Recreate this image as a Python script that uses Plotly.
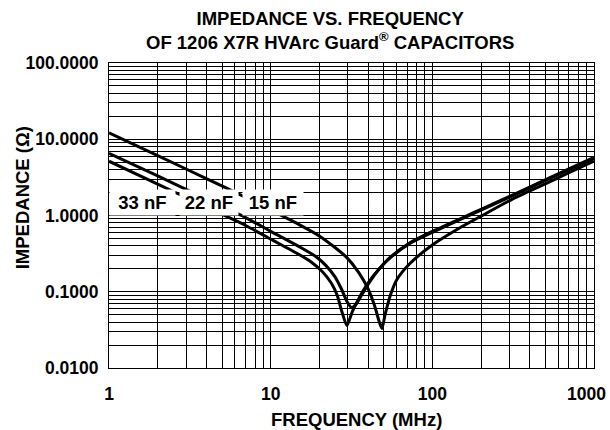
import plotly.graph_objects as go

# Frequencies (MHz) and impedance (ohm)
f33 = [1, 2, 4, 7, 10, 14.8, 17.8, 20.7, 23.7, 25.8, 27.5, 29.6, 32, 36, 40, 47, 55, 72.7, 100, 200, 400, 700, 1000]
z33 = [5.15, 2.58, 1.29, 0.74, 0.49, 0.313, 0.246, 0.187, 0.13, 0.09, 0.056, 0.036, 0.055, 0.09, 0.13, 0.2, 0.28, 0.43, 0.6, 1.18, 2.3, 4.0, 5.6]

f22 = [1, 2, 4, 7, 10, 15, 19, 22, 25, 27.5, 29.8, 31.8, 34, 37, 41, 47, 55, 72.7, 100, 200, 400, 700, 1000]
z22 = [6.55, 3.3, 1.65, 0.94, 0.62, 0.39, 0.29, 0.22, 0.157, 0.107, 0.073, 0.062, 0.07, 0.095, 0.135, 0.2, 0.285, 0.44, 0.62, 1.2, 2.35, 4.1, 5.8]

f15 = [1, 2, 4, 7, 10, 15, 20, 25, 29.6, 35, 40, 44, 47, 48.8, 51, 55, 60.4, 72.7, 100, 150, 200, 315, 500, 700, 1000]
z15 = [12.1, 6.1, 3.05, 1.73, 1.18, 0.76, 0.54, 0.38, 0.28, 0.18, 0.11, 0.065, 0.04, 0.033, 0.05, 0.09, 0.145, 0.235, 0.41, 0.7, 0.98, 1.65, 2.6, 3.65, 5.15]

series_names = ["33 nF", "22 nF", "15 nF"]

x_major = [1, 10, 100]
x_major_text = ["1", "10", "100"]
x_last_text = "1000"  # drawn right-aligned at the window edge, as in the reference
y_major = [0.01, 0.1, 1, 10, 100]
y_major_text = ["0.0100", "0.1000", "1.0000", "10.0000", "100.0000"]

# grid values: 1..9 in every decade
x_grid = [m * d for d in [1, 10, 100] for m in range(1, 10)] + [1000]
y_grid = [m * d for d in [0.01, 0.1, 1, 10] for m in range(1, 10)] + [100]

x_text = [x_major_text[x_major.index(v)] if v in x_major else "" for v in x_grid]
y_text = [y_major_text[y_major.index(v)] if v in y_major else "" for v in y_grid]

FONT = "Liberation Sans, Arial, Helvetica, sans-serif"

fig = go.Figure()
for fx, zy, nm in [(f33, z33, series_names[0]), (f22, z22, series_names[1]), (f15, z15, series_names[2])]:
    fig.add_trace(go.Scatter(x=fx, y=zy, mode="lines", name=nm,
                             line=dict(color="black", width=3, shape="spline", smoothing=0.6),
                             showlegend=False))

fig.update_layout(
    width=610, height=430,
    margin=dict(l=109, r=16, t=63, b=62, autoexpand=False),
    paper_bgcolor="white", plot_bgcolor="white",
    font=dict(family=FONT, color="black", size=17, weight="bold"),
    showlegend=False,
)
fig.update_xaxes(type="log", range=[0, 3], tickvals=x_grid, ticktext=x_text,
                 showgrid=True, gridcolor="black", gridwidth=1,
                 showline=True, linecolor="black", linewidth=1, mirror=True,
                 ticks="", ticklabelstandoff=10, ticklabeloverflow="allow", automargin=False,
                 tickfont=dict(size=17.5, family=FONT, weight="bold"), zeroline=False)
fig.update_yaxes(type="log", range=[-2, 2], tickvals=y_grid, ticktext=y_text,
                 showgrid=True, gridcolor="black", gridwidth=1,
                 showline=True, linecolor="black", linewidth=1, mirror=True,
                 ticks="", ticklabelstandoff=6, ticklabeloverflow="allow", automargin=False,
                 tickfont=dict(size=17.5, family=FONT, weight="bold"), zeroline=False)

ann_font = dict(family=FONT, size=18.5, color="black", weight="bold")
# curve labels with white boxes
label_pos = [(0.069, 65), (0.206, 58), (0.338, 60)]
for nm, (px, w) in zip(series_names, label_pos):
    fig.add_annotation(x=px, y=0.542, xref="paper", yref="paper", text=nm,
                       showarrow=False, bgcolor="white", width=w, height=25,
                       borderpad=0, font=ann_font, xanchor="center", yanchor="middle")

fig.add_annotation(x=1.029, y=-0.085, xref="paper", yref="paper", text=x_last_text,
                   showarrow=False, font=dict(family=FONT, size=17.5, color="black", weight="bold"),
                   xanchor="right", yanchor="middle")

fig.add_annotation(x=0.456, y=1.107, xref="paper", yref="paper",
                   text="IMPEDANCE VS. FREQUENCY<br>OF 1206 X7R HVArc Guard<sup>®</sup> CAPACITORS",
                   showarrow=False, font=dict(family=FONT, size=18.5, color="black", weight="bold"),
                   xanchor="center", yanchor="middle")
fig.add_annotation(x=-0.179, y=0.557, xref="paper", yref="paper", text="IMPEDANCE (Ω)",
                   textangle=-90, showarrow=False, font=dict(family=FONT, size=18.5, color="black", weight="bold"),
                   xanchor="center", yanchor="middle")
fig.add_annotation(x=0.511, y=-0.170, xref="paper", yref="paper", text="FREQUENCY (MHz)",
                   showarrow=False, font=ann_font, xanchor="center", yanchor="middle")

fig.write_html("out.html", config={"displayModeBar": False},
               post_script="document.body.style.margin='0';")
